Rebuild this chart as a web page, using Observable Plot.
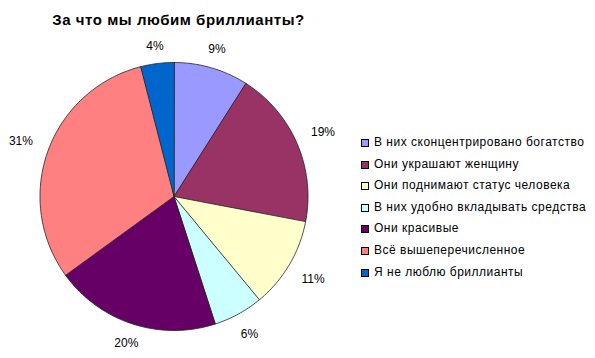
<!DOCTYPE html>
<html><head><meta charset="utf-8">
<script src="https://cdn.jsdelivr.net/npm/d3@7"></script>
<script src="https://cdn.jsdelivr.net/npm/@observablehq/plot@0.6"></script>
<style>
body{margin:0;background:#fff;font-family:"Liberation Sans",Arial,sans-serif;}
#wrap{position:relative;width:595px;height:358px;overflow:hidden;}
#title{position:absolute;left:0;width:357px;top:11px;text-align:center;font-weight:bold;font-size:15px;color:#000;letter-spacing:0.55px;}
#chart{position:absolute;left:0;top:0;}
#legend{position:absolute;left:361px;top:135px;font-size:12px;letter-spacing:0.5px;color:#000;}
.item{height:21.6px;display:flex;align-items:flex-start;white-space:nowrap;}
.sw{width:6px;height:6px;border:1px solid #000;margin-right:5px;margin-top:4px;flex:none;}
</style></head>
<body><div id="wrap"><div id="title"></div><div id="chart"></div><div id="legend"></div></div>
<script>
const title = "За что мы любим бриллианты?";
const categories = [
  "В них сконцентрировано богатство",
  "Они украшают женщину",
  "Они поднимают статус человека",
  "В них удобно вкладывать средства",
  "Они красивые",
  "Всё вышеперечисленное",
  "Я не люблю бриллианты"
];
const values = [9, 19, 11, 6, 20, 31, 4];
const colors = ["#9999FF", "#993366", "#FFFFCC", "#CCFFFF", "#660066", "#FF8080", "#0066CC"];

document.getElementById("title").textContent = title;

const total = d3.sum(values);
let cum = 0;
const slices = categories.map((name, i) => {
  const a0 = cum / total * 2 * Math.PI;
  cum += values[i];
  const a1 = cum / total * 2 * Math.PI;
  return {name, value: values[i], a0, a1, mid: (a0 + a1) / 2};
});
// polygon points in unit-circle data space (angle clockwise from top)
const pts = [];
for (const s of slices) {
  pts.push({name: s.name, x: 0, y: 0});
  const n = Math.max(2, Math.ceil((s.a1 - s.a0) / (Math.PI / 180)));
  for (let k = 0; k <= n; k++) {
    const a = s.a0 + (s.a1 - s.a0) * k / n;
    pts.push({name: s.name, x: Math.sin(a), y: Math.cos(a)});
  }
}
const labels = slices.map(s => {
  const r = 1.12 + 0.1 * Math.abs(Math.sin(s.mid));
  return {text: s.value + "%", x: r * Math.sin(s.mid), y: r * Math.cos(s.mid)};
});

const plot = Plot.plot({
  width: 595, height: 358,
  marginLeft: 39.5, marginRight: 287.5, marginTop: 62, marginBottom: 28,
  x: {domain: [-1, 1], axis: null},
  y: {domain: [-1, 1], axis: null},
  color: {domain: categories, range: colors},
  style: {fontFamily: "Liberation Sans, Arial, sans-serif", background: "transparent"},
  marks: [
    Plot.line(pts, {x: "x", y: "y", z: "name", fill: "name", stroke: "#222", strokeWidth: 0.8, curve: "linear-closed"}),
    Plot.text(labels, {x: "x", y: "y", text: "text", fontSize: 12, fill: "#000", textAnchor: "middle", style: "letter-spacing:0.5px"})
  ]
});
document.getElementById("chart").appendChild(plot);

const leg = document.getElementById("legend");
categories.forEach((c, i) => {
  const d = document.createElement("div"); d.className = "item";
  const sw = document.createElement("span"); sw.className = "sw"; sw.style.background = colors[i];
  const t = document.createElement("span"); t.textContent = c;
  d.appendChild(sw); d.appendChild(t); leg.appendChild(d);
});
</script></body></html>
